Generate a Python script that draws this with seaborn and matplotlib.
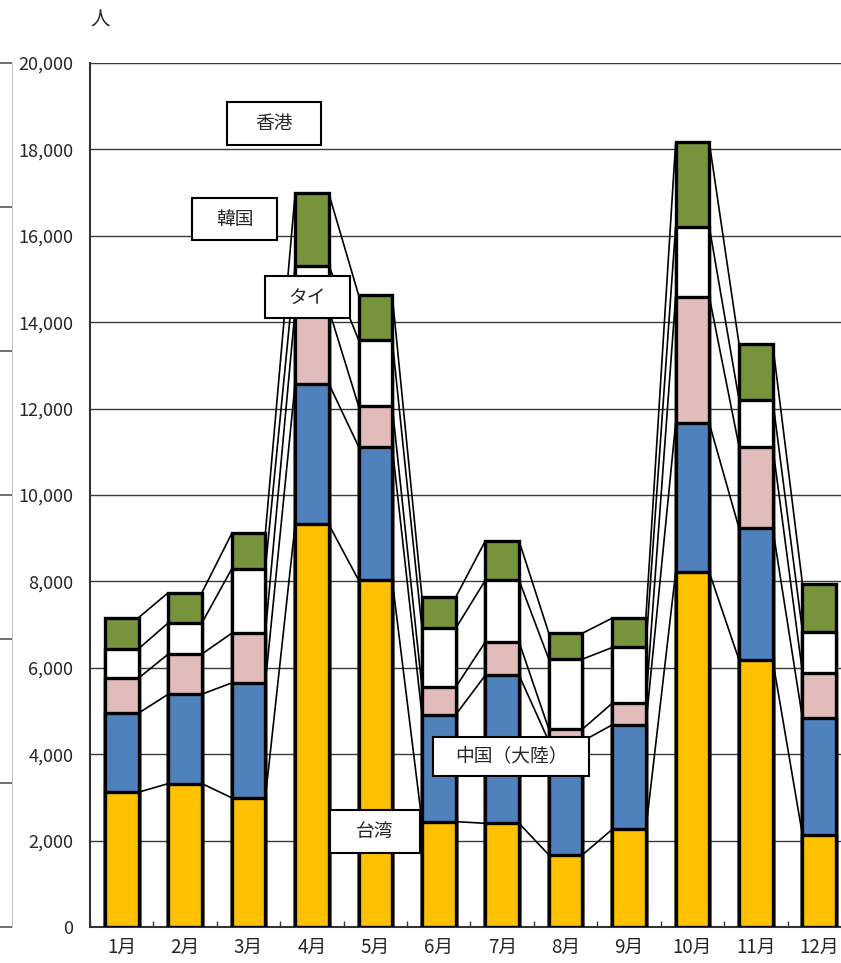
import numpy as np
import pandas as pd
import matplotlib
matplotlib.use("Agg")
import matplotlib.pyplot as plt
from matplotlib.patches import Rectangle
import seaborn as sns

months = ["1月", "2月", "3月", "4月", "5月", "6月", "7月", "8月", "9月", "10月", "11月", "12月"]
taiwan = [3120, 3320, 2990, 9320, 8030, 2440, 2400, 1670, 2260, 8210, 6180, 2130]
china = [1830, 2070, 2660, 3260, 3090, 2470, 3430, 2630, 2420, 3450, 3050, 2700]
thai = [810, 930, 1150, 1720, 940, 640, 770, 280, 500, 2930, 1890, 1060]
korea = [680, 720, 1490, 1010, 1530, 1360, 1430, 1620, 1290, 1620, 1080, 950]
hongkong = [720, 700, 820, 1670, 1040, 720, 910, 600, 680, 1950, 1290, 1100]
series_names = ["台湾", "中国（大陸）", "タイ", "韓国", "香港"]
series_colors = ["#FFC000", "#4F81BD", "#E2BBBB", "#FFFFFF", "#77933C"]
y_ticks = [0, 2000, 4000, 6000, 8000, 10000, 12000, 14000, 16000, 18000, 20000]

sns.set_style("white")
plt.rcParams["font.family"] = ["Noto Sans CJK JP", "DejaVu Sans"]

W, H = 841, 963
fig = plt.figure(figsize=(W / 100, H / 100), dpi=100)
ax = fig.add_axes([90 / W, 36 / H, (851 - 90) / W, (927 - 63) / H])

stack = np.array([taiwan, china, thai, korea, hongkong])
cum = np.cumsum(stack, axis=0)
bar_w = 0.53

# stacked bars: draw cumulative totals from top layer down
for k in range(len(series_names) - 1, -1, -1):
    df = pd.DataFrame({"month": months, "value": cum[k]})
    sns.barplot(data=df, x="month", y="value", order=months, color=series_colors[k],
                width=bar_w, edgecolor="black", linewidth=2.4, saturation=1,
                ax=ax, zorder=3)

# series lines between adjacent bars
xs = np.arange(len(months))
for k in range(len(series_names)):
    for i in range(len(months) - 1):
        ax.plot([xs[i] + bar_w / 2, xs[i + 1] - bar_w / 2], [cum[k][i], cum[k][i + 1]],
                color="black", lw=1.2, zorder=2.5, solid_capstyle="butt")

ax.set_xlim(-0.5, len(months) - 0.5)
ax.set_ylim(0, 20000)
ax.set_yticks(y_ticks)
ax.set_yticklabels([f"{v:,}" for v in y_ticks], fontsize=13)
ax.yaxis.grid(True, color="#3a3a3a", lw=1.0)
ax.set_axisbelow(True)
ax.set_xlabel("")
ax.set_ylabel("")
ax.tick_params(axis="y", length=0, pad=12)
ax.tick_params(axis="x", which="major", length=0, pad=7, labelsize=13.5)
ax.set_xticks(np.arange(len(months) + 1) - 0.5, minor=True)
ax.tick_params(axis="x", which="minor", bottom=True, direction="in", length=4, width=1,
               color="#333333")
for s in ["top", "right"]:
    ax.spines[s].set_visible(False)
for s in ["left", "bottom"]:
    ax.spines[s].set_color("#333333")
    ax.spines[s].set_linewidth(1.5)

# leftover axis fragment at far left
ax2 = fig.add_axes([12 / W, 36 / H, 0.0005, (927 - 63) / H])
ax2.set_ylim(0, 6)
ax2.set_yticks(range(7))
ax2.set_yticklabels([])
ax2.set_xticks([])
ax2.tick_params(axis="y", left=True, direction="out", length=9, width=1.2, color="#555555")
for s in ["top", "right", "bottom"]:
    ax2.spines[s].set_visible(False)
ax2.spines["left"].set_color("#c8c8c8")
ax2.patch.set_alpha(0)

# unit label
fig.text(100 / W, 1 - 20 / H, "人", fontsize=14, ha="center", va="center")

# series labels in boxes
def box_label(text, x0, y0, x1, y1):
    rect = Rectangle((x0 / W, 1 - y1 / H), (x1 - x0) / W, (y1 - y0) / H,
                     transform=fig.transFigure, facecolor="white", edgecolor="black",
                     lw=1.5, zorder=10)
    fig.add_artist(rect)
    fig.text((x0 + x1) / 2 / W, 1 - (y0 + y1) / 2 / H, text, fontsize=13.5,
             ha="center", va="center", zorder=11)

box_label(series_names[4], 227, 102, 321, 145)
box_label(series_names[3], 192, 198, 277, 240)
box_label(series_names[2], 265, 276, 350, 318)
box_label(series_names[1], 433, 737, 589, 776)
box_label(series_names[0], 330, 810, 420, 853)

fig.savefig("out.png", dpi=100)
